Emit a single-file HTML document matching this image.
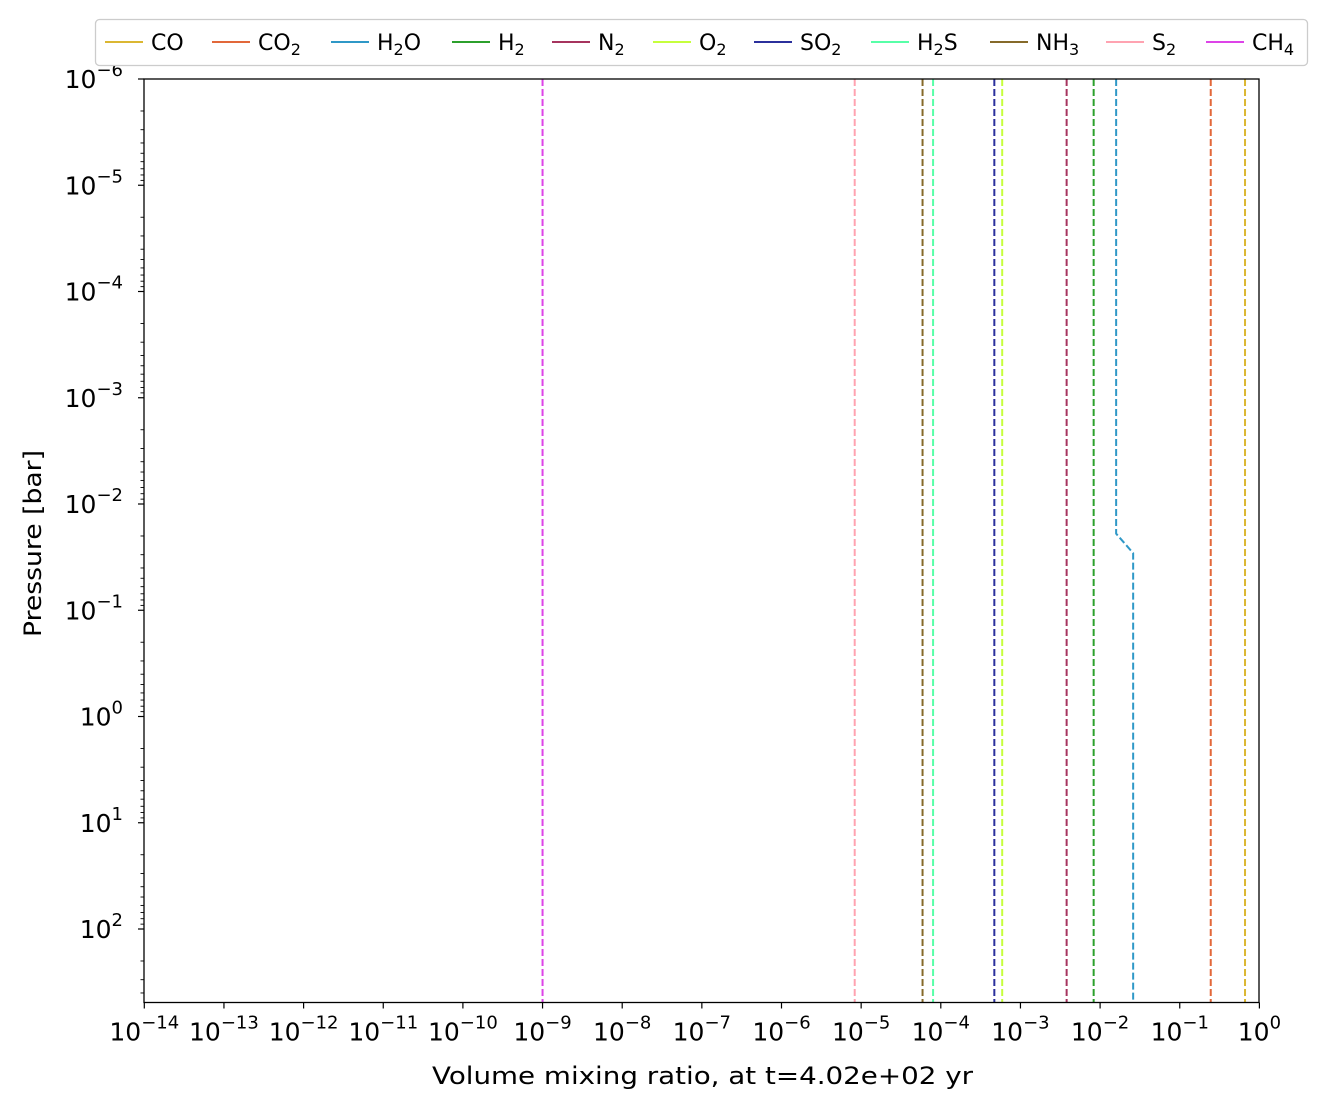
<!DOCTYPE html>
<html><head><meta charset="utf-8"><style>
body{margin:0;background:#fff;}
svg text{font-family:"DejaVu Sans","Liberation Sans",sans-serif;}
</style></head><body>
<svg id="chart" width="1328" height="1111" xmlns="http://www.w3.org/2000/svg"></svg>
<script>
const species = ["CO","CO2","H2O","H2","N2","O2","SO2","H2S","NH3","S2","CH4"];
const labelParts = [["CO"],["CO","2"],["H","2","O"],["H","2"],["N","2"],["O","2"],["SO","2"],["H","2","S"],["NH","3"],["S","2"],["CH","4"]];
const colors = ["#dbb732","#e2683a","#2f98c7","#2ca02c","#a6345e","#c6ff3c","#2b309c","#57ffa8","#866a2a","#ffa3b1","#dd44e8"];
const vmrTop = [0.66,0.245,0.0159,0.0083,0.0038,0.00059,0.00047,0.00008,0.000059,0.0000083,1e-9];
const vmrBot = [0.66,0.245,0.026,0.0083,0.0038,0.00059,0.00047,0.00008,0.000059,0.0000083,1e-9];
const switchP = [0.019,0.029];
const xTicks = [-14,-13,-12,-11,-10,-9,-8,-7,-6,-5,-4,-3,-2,-1,0];
const yTicks = [-6,-5,-4,-3,-2,-1,0,1,2];

const svg=document.getElementById('chart');
const NS="http://www.w3.org/2000/svg";
const L=144,R=1259,T=79,B=1002.5,X0=144.3,XS=79.65;
const xl=e=>X0+(e+14)*XS;
const x=v=>xl(Math.log10(v));
const yl=e=>T+(e+6)*106.25;
const y=p=>yl(Math.log10(p));
function el(tag,attrs,parent){const e=document.createElementNS(NS,tag);for(const k in attrs)e.setAttribute(k,attrs[k]);(parent||svg).appendChild(e);return e;}

species.forEach((s,i)=>{
  let d;
  if(vmrTop[i]===vmrBot[i]) d=`M${x(vmrTop[i])},${T} L${x(vmrTop[i])},${B}`;
  else d=`M${x(vmrTop[i])},${T} L${x(vmrTop[i])},${y(switchP[0])} L${x(vmrBot[i])},${y(switchP[1])} L${x(vmrBot[i])},${B}`;
  const p=el('path',{d:d,fill:'none',stroke:colors[i],'stroke-width':2,'stroke-dasharray':'7,3'});
  
  
});

const fr=el('rect',{x:L,y:T,width:R-L,height:B-T,fill:'none',stroke:'#000','stroke-width':1.3});



function powLabel(t,e){t.innerHTML=`10<tspan dy="-12" font-size="18">${e<0?'\u2212'+(-e):e}</tspan>`;}
xTicks.forEach(e=>{
  const px=xl(e);
  el('line',{x1:px,x2:px,y1:B,y2:B+6,stroke:'#000','stroke-width':1.2});
  const t=el('text',{x:px,y:B+38,'font-size':25,'text-anchor':'middle'});
  powLabel(t,e);
  
  
});
yTicks.forEach(e=>{
  const py=yl(e);
  el('line',{x1:L-6,x2:L,y1:py,y2:py,stroke:'#000','stroke-width':1.2});
  const t=el('text',{x:L-21,y:py+9,'font-size':25,'text-anchor':'end'});
  powLabel(t,e);
  
  
});
for(let e=-7;e<=2;e++){for(let m=2;m<=9;m++){const v=e+Math.log10(m);if(v<-6||v>2.69)continue;const py=yl(v);el('line',{x1:L-3.5,x2:L,y1:py,y2:py,stroke:'#000','stroke-width':0.9});}}

const xt=el('text',{x:432,y:1084,'font-size':24,textLength:541,lengthAdjust:'spacingAndGlyphs'});
xt.textContent='Volume mixing ratio, at t=4.02e+02 yr';


const yt=el('text',{x:0,y:0,'font-size':24,textLength:187,lengthAdjust:'spacingAndGlyphs',transform:`translate(41,637) rotate(-90)`});
yt.textContent='Pressure [bar]';



const lg=el('g',{});


el('rect',{x:95.5,y:19.5,width:1212,height:46,rx:4,fill:'#fff',stroke:'#ccc','stroke-width':1.3},lg);
const tx=[151,258,377,498,598,699,800,917,1036,1152,1252];
species.forEach((s,i)=>{
  const g=el('g',{},lg);
  
  
  el('line',{x1:tx[i]-46,x2:tx[i]-8,y1:42,y2:42,stroke:colors[i],'stroke-width':2},g);
  const t=el('text',{x:tx[i],y:50,'font-size':22},g);
  const p=labelParts[i];
  let h=p[0];
  if(p[1]) h+=`<tspan dy="5" font-size="16">${p[1]}</tspan>`;
  if(p[2]) h+=`<tspan dy="-5">${p[2]}</tspan>`;
  t.innerHTML=h;
});
</script>
</body></html>
